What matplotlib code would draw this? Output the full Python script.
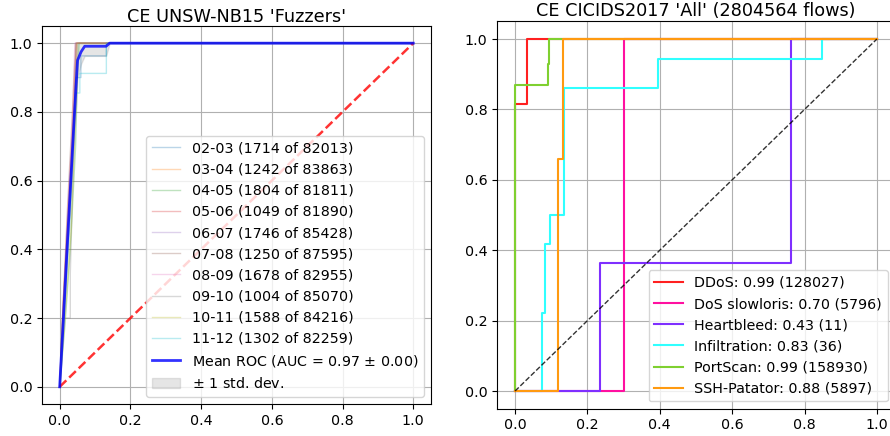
import numpy as np
import matplotlib
matplotlib.use('Agg')
import matplotlib.pyplot as plt

# ---- left panel: per-fold ROC curves (UNSW-NB15 Fuzzers) ----
fold_labels = ['02-03 (1714 of 82013)', '03-04 (1242 of 83863)', '04-05 (1804 of 81811)',
               '05-06 (1049 of 81890)', '06-07 (1746 of 85428)', '07-08 (1250 of 87595)',
               '08-09 (1678 of 82955)', '09-10 (1004 of 85070)', '10-11 (1588 of 84216)',
               '11-12 (1302 of 82259)']
fold_fpr = [
    [0, 0.012, 0.025, 0.038, 0.045, 0.060, 0.060, 0.132, 0.132, 1],
    [0, 0.008, 0.020, 0.035, 0.042, 0.048, 1],
    [0, 0.015, 0.030, 0.045, 0.050, 0.055, 1],
    [0, 0.010, 0.025, 0.040, 0.047, 1],
    [0, 0.012, 0.028, 0.042, 0.050, 1],
    [0, 0.010, 0.022, 0.036, 0.045, 1],
    [0, 0.010, 0.020, 0.035, 0.043, 1],
    [0, 0.008, 0.030, 0.030, 0.040, 0.046, 1],
    [0, 0.015, 0.032, 0.045, 0.050, 1],
    [0, 0.015, 0.030, 0.045, 0.057, 0.057, 0.132, 0.132, 1],
]
fold_tpr = [
    [0, 0.22, 0.47, 0.72, 0.90, 0.90, 0.963, 0.963, 1, 1],
    [0, 0.20, 0.45, 0.73, 0.90, 1, 1],
    [0, 0.18, 0.40, 0.70, 0.90, 1, 1],
    [0, 0.25, 0.50, 0.80, 1, 1],
    [0, 0.22, 0.50, 0.82, 1, 1],
    [0, 0.25, 0.52, 0.80, 1, 1],
    [0, 0.20, 0.45, 0.75, 1, 1],
    [0, 0.20, 0.20, 0.33, 0.70, 1, 1],
    [0, 0.20, 0.45, 0.80, 1, 1],
    [0, 0.25, 0.50, 0.855, 0.855, 0.912, 0.912, 1, 1],
]
mean_fpr = [0, 0.0101, 0.0202, 0.0303, 0.0404, 0.0505, 0.0606, 0.0707, 0.0808,
            0.0909, 0.1010, 0.1111, 0.1212, 0.1313, 0.1414, 1.0]
mean_tpr = [0, 0.19, 0.39, 0.58, 0.77, 0.95, 0.975, 0.991, 0.991,
            0.991, 0.991, 0.991, 0.991, 0.991, 1.0, 1.0]
tpr_lower = [0, 0.17, 0.35, 0.53, 0.71, 0.90, 0.94, 0.963, 0.963,
             0.963, 0.963, 0.963, 0.963, 0.963, 1.0, 1.0]
tpr_upper = [0, 0.21, 0.43, 0.63, 0.83, 1.0, 1.0, 1.0, 1.0,
             1.0, 1.0, 1.0, 1.0, 1.0, 1.0, 1.0]
mean_auc, std_auc = 0.97, 0.00

# ---- right panel: per-class ROC curves (CICIDS2017 All) ----
class_labels = ['DDoS: 0.99 (128027)', 'DoS slowloris: 0.70 (5796)', 'Heartbleed: 0.43 (11)',
                'Infiltration: 0.83 (36)', 'PortScan: 0.99 (158930)', 'SSH-Patator: 0.88 (5897)']
class_colors = ['#ff2020', '#ff10a0', '#7f2fff', '#30ffff', '#7fd030', '#ff9a10']
class_fpr = [
    [0, 0, 0.032, 0.032, 1],
    [0, 0.30, 0.30, 1],
    [0, 0.235, 0.235, 0.762, 0.762, 1],
    [0, 0.075, 0.075, 0.083, 0.083, 0.097, 0.097, 0.113, 0.113, 0.136, 0.136, 0.396, 0.396, 0.849, 0.849, 1],
    [0, 0, 0.090, 0.090, 0.095, 0.095, 1],
    [0, 0.120, 0.120, 0.132, 0.132, 1],
]
class_tpr = [
    [0, 0.815, 0.815, 1, 1],
    [0, 0, 1, 1],
    [0, 0, 0.364, 0.364, 1, 1],
    [0, 0, 0.222, 0.222, 0.417, 0.417, 0.5, 0.5, 0.5, 0.5, 0.861, 0.861, 0.944, 0.944, 1, 1],
    [0, 0.869, 0.869, 0.93, 0.93, 1, 1],
    [0, 0, 0.658, 0.658, 1, 1],
]

fig = plt.figure(figsize=(8.9, 4.36), dpi=100)
ax1 = fig.add_axes([0.0472, 0.0734, 0.437, 0.867])
ax2 = fig.add_axes([0.5584, 0.0628, 0.4472, 0.888])

# left
for fx, fy, lab in zip(fold_fpr, fold_tpr, fold_labels):
    ax1.plot(fx, fy, lw=1, alpha=0.3, label=lab)
ax1.plot([0, 1], [0, 1], linestyle='--', lw=1.8, color='r', alpha=0.8)
ax1.plot(mean_fpr, mean_tpr, color='b', lw=2, alpha=0.8,
         label='Mean ROC (AUC = %0.2f $\\pm$ %0.2f)' % (mean_auc, std_auc))
ax1.fill_between(mean_fpr, tpr_lower, tpr_upper, color='grey', alpha=0.2,
                 label=r'$\pm$ 1 std. dev.')
ax1.set_xlim(-0.05, 1.05)
ax1.set_ylim(-0.05, 1.05)
ax1.set_title("CE UNSW-NB15 'Fuzzers'", fontsize=12.7, pad=2)
ax1.grid(True)
ax1.legend(loc='lower right', fontsize=10.3)

# right
for cx, cy, lab, col in zip(class_fpr, class_tpr, class_labels, class_colors):
    ax2.plot(cx, cy, lw=1.5, color=col, label=lab)
ax2.plot([0, 1], [0, 1], 'k--', lw=1, alpha=0.8)
ax2.set_xlim(-0.05, 1.05)
ax2.set_ylim(-0.05, 1.05)
ax2.set_title("CE CICIDS2017 'All' (2804564 flows)", fontsize=12.7, pad=4)
ax2.grid(True)
ax2.legend(loc='lower right', fontsize=10.3)

for ax in (ax1, ax2):
    ax.tick_params(labelsize=10.3)

fig.savefig('out.png', dpi=100)
